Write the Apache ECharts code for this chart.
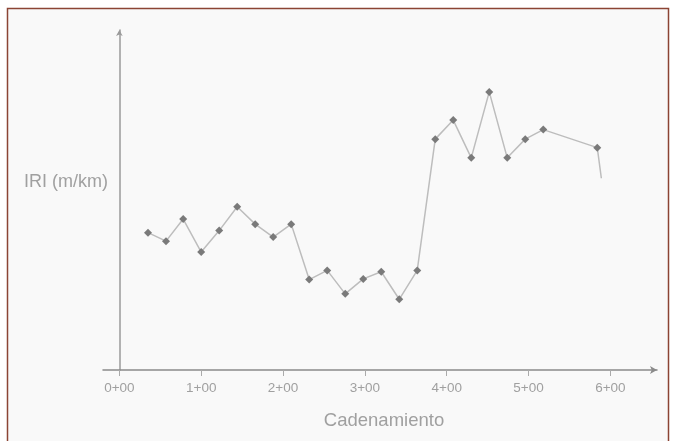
<!DOCTYPE html>
<html>
<head>
<meta charset="utf-8">
<script src="https://cdn.jsdelivr.net/npm/echarts@6/dist/echarts.min.js"></script>
<style>
html,body{margin:0;padding:0;background:#ffffff;}
#chart{width:675px;height:441px;}
</style>
</head>
<body>
<div id="chart"></div>
<script>
// Chainage (m) and IRI (m/km)
const chainage = [35, 57, 78, 100, 122, 144, 166, 188, 210, 232, 254, 276, 298, 320, 342, 364, 386, 408, 430, 452, 474, 496, 518, 584, 589];
const iri = [4.04, 3.79, 4.44, 3.47, 4.10, 4.80, 4.29, 3.91, 4.29, 2.66, 2.93, 2.24, 2.68, 2.89, 2.08, 2.93, 6.79, 7.35, 6.24, 8.18, 6.24, 6.79, 7.07, 6.54, 5.64];
const tickValues = [0, 100, 200, 300, 400, 500, 600];
const yLabel = 'IRI (m/km)';
const xLabel = 'Cadenamiento';

const data = chainage.map((c, i) => {
  const item = { value: [c, iri[i]] };
  if (i === chainage.length - 1) item.symbol = 'none';
  return item;
});

const chart = echarts.init(document.getElementById('chart'));
chart.setOption({
  animation: false,
  backgroundColor: '#ffffff',
  graphic: [
    { type: 'rect', z: -10, shape: { x: 7.5, y: 8.5, width: 661, height: 440 },
      style: { fill: '#f9f9f9', stroke: '#8b4434', lineWidth: 1.5 } },
    { type: 'text', left: 24, top: 173,
      style: { text: yLabel, fontFamily: 'Liberation Sans, Arial, sans-serif', fontSize: 18, fill: '#a0a0a0' } },
    { type: 'text', x: 384, y: 421,
      style: { text: xLabel, fontFamily: 'Liberation Sans, Arial, sans-serif', fontSize: 18.5, fill: '#a0a0a0', align: 'center', verticalAlign: 'middle' } }
  ],
  grid: { left: 103, top: 30, width: 554, bottom: 71, containLabel: false },
  xAxis: {
    type: 'value', min: -20, max: 657,
    splitLine: { show: false },
    axisLine: { show: true, onZero: false, symbol: ['none', 'arrow'], symbolSize: [6, 7], lineStyle: { color: '#8a8a8a', width: 1.5 } },
    axisTick: { show: true, customValues: tickValues, length: 6, inside: false, lineStyle: { color: '#aaaaaa', width: 1 } },
    axisLabel: {
      customValues: tickValues, margin: 11,
      formatter: v => (v / 100) + '+00',
      color: '#a0a0a0', fontSize: 13.5, fontFamily: 'Liberation Sans, Arial, sans-serif'
    }
  },
  yAxis: {
    type: 'value', min: 0, max: 10,
    splitLine: { show: false },
    axisLine: { show: true, onZero: true, symbol: ['none', 'arrow'], symbolSize: [5, 6], lineStyle: { color: '#9a9a9a', width: 1.5 } },
    axisTick: { show: false },
    axisLabel: { show: false }
  },
  series: [{
    type: 'line',
    data: data,
    symbol: 'diamond',
    symbolSize: 8,
    showSymbol: true,
    lineStyle: { color: '#bdbdbd', width: 1.5 },
    itemStyle: { color: '#7a7a7a' }
  }]
});
</script>
</body>
</html>
